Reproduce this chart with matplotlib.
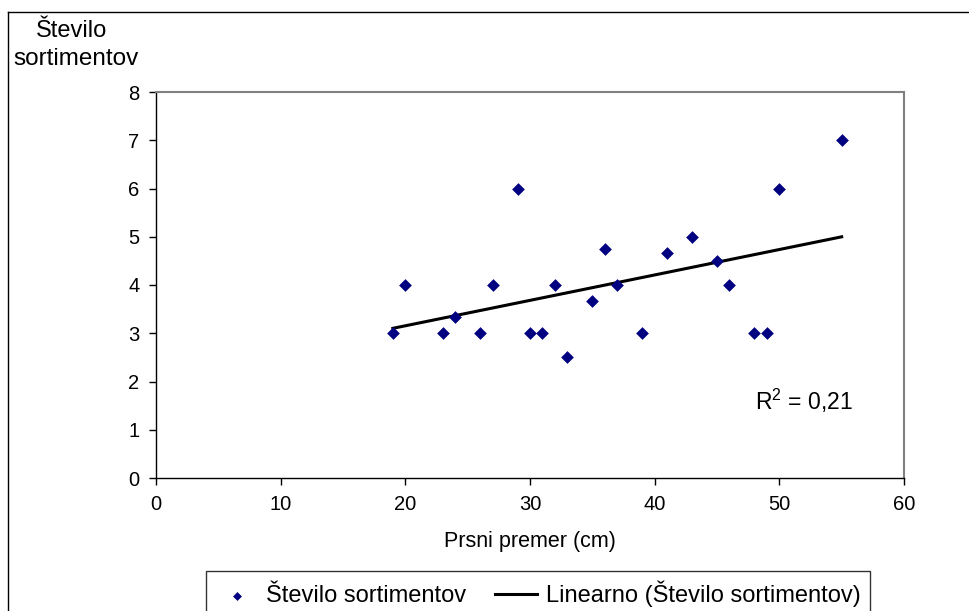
import numpy as np
import matplotlib.pyplot as plt
from matplotlib.lines import Line2D

plt.rcParams['font.family'] = ['Liberation Sans', 'DejaVu Sans']
plt.rcParams['mathtext.fontset'] = 'custom'
plt.rcParams['mathtext.rm'] = 'Liberation Sans'

# prsni premer (cm) in število sortimentov
premer = [19, 20, 23, 24, 26, 27, 29, 30, 31, 32, 33, 35, 36, 37, 39,
          41, 43, 45, 46, 48, 49, 50, 55]
sortimenti = [3, 4, 3, 3.33, 3, 4, 6, 3, 3, 4, 2.5, 3.67, 4.75, 4, 3,
              4.67, 5, 4.5, 4, 3, 3, 6, 7]
x_ticks = [0, 10, 20, 30, 40, 50, 60]
y_ticks = [0, 1, 2, 3, 4, 5, 6, 7, 8]

x = np.array(premer, dtype=float)
y = np.array(sortimenti, dtype=float)
k, n = np.polyfit(x, y, 1)
y_fit = k * x + n
r2 = 1 - np.sum((y - y_fit) ** 2) / np.sum((y - y.mean()) ** 2)

fig = plt.figure(figsize=(9.7, 6.11), dpi=100)
ax = fig.add_axes([156 / 970, 1 - 478 / 611, (904 - 156) / 970, (478 - 92) / 611])

sc = ax.scatter(x, y, marker='D', s=42, color='#000080', zorder=3,
                linewidths=0, label='Število sortimentov')
xs = np.array([x.min(), x.max()])
ln, = ax.plot(xs, k * xs + n, color='black', lw=2.2, zorder=2,
              label='Linearno (Število sortimentov)')

ax.set_xlim(0, 60)
ax.set_ylim(0, 8)
ax.set_xticks(x_ticks)
ax.set_yticks(y_ticks)
ax.tick_params(direction='out', length=5, width=1, labelsize=14.5, colors='black', pad=7)
for s in ['top', 'right']:
    ax.spines[s].set_color('#808080')
    ax.spines[s].set_linewidth(1.5)
for s in ['left', 'bottom']:
    ax.spines[s].set_color('black')
    ax.spines[s].set_linewidth(1)

ax.text(52, 1.6, '$\\mathregular{R^2}$ = ' + f'{r2:.2f}'.replace('.', ','),
        fontsize=16.5, ha='center', va='center')

fig.text(530 / 970, 1 - 541 / 611, 'Prsni premer (cm)', fontsize=15.5,
         ha='center', va='center')
# naslov osi y v dveh vrsticah
fig.text(72 / 970, 1 - 37 / 611, 'Število', fontsize=17,
         ha='center', va='baseline')
fig.text(76 / 970, 1 - 65 / 611, 'sortimentov', fontsize=17.5,
         ha='center', va='baseline')

leg = fig.legend(handles=[sc, ln], loc='upper center', ncol=2,
                 bbox_to_anchor=(538 / 970, 1 - 571 / 611), fontsize=17,
                 frameon=True, fancybox=False, edgecolor='black',
                 handlelength=1.8, handletextpad=0.35, columnspacing=1.2,
                 borderpad=0.4, markerscale=0.7, borderaxespad=0)
leg.get_frame().set_linewidth(1)

# okvir grafikona
fig.add_artist(Line2D([8 / 970, 8 / 970], [0, 1 - 12 / 611], color='black', lw=1))
fig.add_artist(Line2D([8 / 970, 1], [1 - 12 / 611, 1 - 12 / 611], color='black', lw=1))

fig.savefig('out.png', dpi=100)
